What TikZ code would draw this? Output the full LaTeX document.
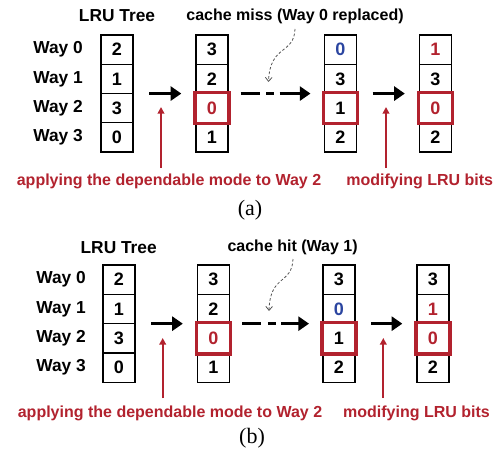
\documentclass[tikz,border=0pt]{standalone}
\usepackage{fontspec}
\setmainfont{Liberation Sans}
\newfontfamily\seriffont{Liberation Serif}
\usetikzlibrary{arrows.meta}
\definecolor{hred}{HTML}{B2222E}
\definecolor{hblue}{HTML}{2B45A0}
\definecolor{dgray}{HTML}{555555}
\tikzset{
  cell/.style={draw, line width=0.9pt, minimum width=24pt, minimum height=22pt, inner sep=0pt, outer sep=0pt, font=\fontsize{13.5}{15}\selectfont\bfseries},
  waylbl/.style={anchor=east, inner sep=0pt, font=\fontsize{13}{15}\selectfont\bfseries},
  title/.style={inner sep=0pt, font=\fontsize{13}{15}\selectfont\bfseries},
  note/.style={inner sep=0pt, font=\fontsize{12}{14}\selectfont\bfseries},
  rednote/.style={inner sep=0pt, text=hred, font=\fontsize{12}{14}\selectfont\bfseries},
  sublbl/.style={inner sep=0pt, font=\fontsize{16.5}{18}\selectfont\seriffont},
  hl/.style={draw=hred, line width=2.4pt},
  bigarrow/.style={line width=2.7pt, -{Triangle[length=8pt,width=10.5pt]}},
  dasharrow/.style={line width=2.7pt, dash pattern=on 14.25pt off 5pt on 6pt off 4pt on 40pt, -{Triangle[length=8pt,width=10.5pt]}},
  redarrow/.style={draw=hred, line width=1.5pt, -{Triangle[length=5pt,width=5pt]}, fill=hred},
  curvy/.style={draw=dgray, line width=0.6pt, dash pattern=on 2pt off 1.5pt, -{Straight Barb[length=3pt,width=5pt]}},
}
\begin{document}
\begin{tikzpicture}[x=0.75pt,y=-0.75pt]
\useasboundingbox (0,0) rectangle (500,453);

% ================= (a) =================
\node[title] (atitle) at (117,16) {LRU Tree};
\node[note] (amiss) at (295,16) {cache miss (Way 0 replaced)};

\node[waylbl] (aw0) at (83,49.6) {Way 0};
\node[waylbl] (aw1) at (83,78.9) {Way 1};
\node[waylbl] (aw2) at (83,108.1) {Way 2};
\node[waylbl] (aw3) at (83,137.4) {Way 3};

% column 1
\node[cell] (a10) at (117,49.6) {2};
\node[cell] (a11) at (117,78.9) {1};
\node[cell] (a12) at (117,108.1) {3};
\node[cell] (a13) at (117,137.4) {0};
% column 2
\node[cell] (a20) at (212,49.6) {3};
\node[cell] (a21) at (212,78.9) {2};
\node[cell, text=hred] (a22) at (212,108.1) {0};
\node[cell] (a23) at (212,137.4) {1};
% column 3
\node[cell, text=hblue] (a30) at (340.5,49.6) {0};
\node[cell] (a31) at (340.5,78.9) {3};
\node[cell] (a32) at (340.5,108.1) {1};
\node[cell] (a33) at (340.5,137.4) {2};
% column 4
\node[cell, text=hred] (a40) at (435.5,49.6) {1};
\node[cell] (a41) at (435.5,78.9) {3};
\node[cell, text=hred] (a42) at (435.5,108.1) {0};
\node[cell] (a43) at (435.5,137.4) {2};

\draw[hl] ([shift={(-0.8pt,0.8pt)}]a22.north west) rectangle ([shift={(0.8pt,-0.8pt)}]a22.south east);
\draw[hl] ([shift={(-0.8pt,0.8pt)}]a32.north west) rectangle ([shift={(0.8pt,-0.8pt)}]a32.south east);
\draw[hl] ([shift={(-0.8pt,0.8pt)}]a42.north west) rectangle ([shift={(0.8pt,-0.8pt)}]a42.south east);

\draw[bigarrow] ([xshift=12pt]a11.south east) -- ([xshift=-11pt]a21.south west);
\draw[dasharrow] ([xshift=9.5pt]a21.south east) -- ([xshift=-10.5pt]a31.south west);
\draw[bigarrow] ([xshift=12pt]a31.south east) -- ([xshift=-11pt]a41.south west);

\node[rednote] (ared1) at (169,181) {applying the dependable mode to Way 2};
\node[rednote] (ared2) at (419.7,181) {modifying LRU bits};
\coordinate (ara1) at (161,168);
\coordinate (arb1) at (161,107);
\coordinate (ara2) at (386,168);
\coordinate (arb2) at (386,107);
\draw[redarrow] (ara1) -- (arb1);
\draw[redarrow] (ara2) -- (arb2);

\coordinate (acs) at (295,29);
\coordinate (ace) at (268.5,82);
\draw[curvy] (acs) .. controls (294,55) and (270,44) .. (ace);

\node[sublbl] (alabel) at (250,210) {(a)};

% ================= (b) =================
\node[title] (btitle) at (118.7,247.5) {LRU Tree};
\node[note] (bhit) at (292.6,247.5) {cache hit (Way 1)};

\node[waylbl] (bw0) at (86,279.6) {Way 0};
\node[waylbl] (bw1) at (86,309) {Way 1};
\node[waylbl] (bw2) at (86,338.3) {Way 2};
\node[waylbl] (bw3) at (86,367.6) {Way 3};

% column 1
\node[cell] (b10) at (119,279.6) {2};
\node[cell] (b11) at (119,309) {1};
\node[cell] (b12) at (119,338.3) {3};
\node[cell] (b13) at (119,367.6) {0};
% column 2
\node[cell] (b20) at (213.5,279.6) {3};
\node[cell] (b21) at (213.5,309) {2};
\node[cell, text=hred] (b22) at (213.5,338.3) {0};
\node[cell] (b23) at (213.5,367.6) {1};
% column 3
\node[cell] (b30) at (339,279.6) {3};
\node[cell, text=hblue] (b31) at (339,309) {0};
\node[cell] (b32) at (339,338.3) {1};
\node[cell] (b33) at (339,367.6) {2};
% column 4
\node[cell] (b40) at (433,279.6) {3};
\node[cell, text=hred] (b41) at (433,309) {1};
\node[cell, text=hred] (b42) at (433,338.3) {0};
\node[cell] (b43) at (433,367.6) {2};

\draw[hl] ([shift={(-0.8pt,0.8pt)}]b22.north west) rectangle ([shift={(0.8pt,-0.8pt)}]b22.south east);
\draw[hl] ([shift={(-0.8pt,0.8pt)}]b32.north west) rectangle ([shift={(0.8pt,-0.8pt)}]b32.south east);
\draw[hl] ([shift={(-0.8pt,0.8pt)}]b42.north west) rectangle ([shift={(0.8pt,-0.8pt)}]b42.south east);

\draw[bigarrow] ([xshift=12pt]b11.south east) -- ([xshift=-11pt]b21.south west);
\draw[dasharrow] ([xshift=9.5pt]b21.south east) -- ([xshift=-10.5pt]b31.south west);
\draw[bigarrow] ([xshift=12pt]b31.south east) -- ([xshift=-11pt]b41.south west);

\node[rednote] (bred1) at (170,413) {applying the dependable mode to Way 2};
\node[rednote] (bred2) at (416.5,413) {modifying LRU bits};
\coordinate (bra1) at (162.7,398);
\coordinate (brb1) at (162.7,338);
\coordinate (bra2) at (383.3,398);
\coordinate (brb2) at (383.3,338);
\draw[redarrow] (bra1) -- (brb1);
\draw[redarrow] (bra2) -- (brb2);

\coordinate (bcs) at (293,259);
\coordinate (bce) at (269,311);
\draw[curvy] (bcs) .. controls (292,285) and (270,274) .. (bce);

\node[sublbl] (blabel) at (252,438.5) {(b)};
\end{tikzpicture}
\end{document}
